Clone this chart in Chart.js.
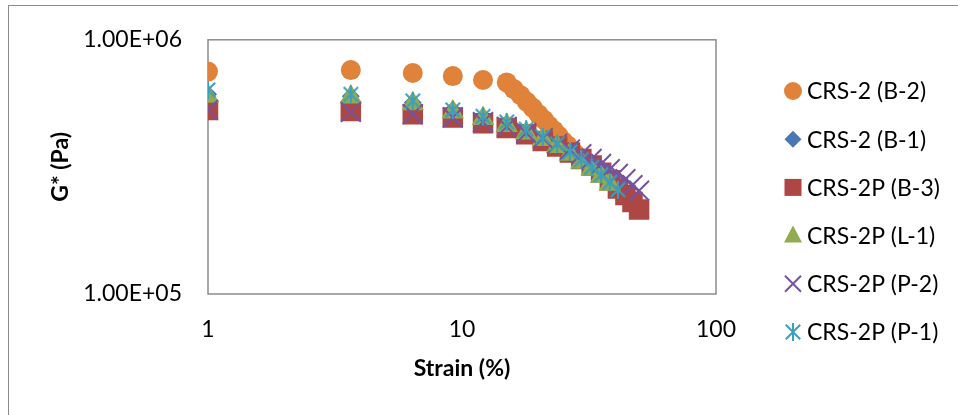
<!DOCTYPE html>
<html>
<head>
<meta charset="utf-8">
<script src="https://cdn.jsdelivr.net/npm/chart.js@4.4.0/dist/chart.umd.min.js"></script>
<style>
  html, body { margin: 0; padding: 0; background: #fff; overflow: hidden; }
  #wrap { position: relative; width: 958px; height: 415px; }
  #frame { position: absolute; left: 8px; top: 5px; width: 1100px; height: 600px; border: 1px solid #8c8c8c; }
  canvas { position: absolute; left: 0; top: 0; }
</style>
</head>
<body>
<div id="wrap">
  <div id="frame"></div>
  <canvas id="chart" width="958" height="415"></canvas>
</div>
<script>
// strain (%) values
const strainMain = [1, 3.65, 6.4, 9.2, 12.1, 15, 17.9, 20.8, 23.7, 26.6, 29.5, 32.4, 35.3, 38.2, 41.1, 44, 46.9, 49.8];
const strainB2 = [1, 3.65, 6.4, 9.2, 12.1, 15, 16, 17, 18, 19, 20, 21, 22, 23, 24, 25, 26, 27, 28];

// G* (Pa)
const gB2 = [7.5e5, 7.6e5, 7.4e5, 7.2e5, 6.95e5, 6.8e5, 6.4e5, 6.05e5, 5.7e5, 5.4e5, 5.1e5, 4.85e5, 4.6e5, 4.4e5, 4.2e5, 4.0e5, 3.85e5, 3.7e5, 3.55e5];
const gB1 = [6.1e5, 6.0e5, 5.65e5, 5.3e5, 4.95e5, 4.65e5, 4.35e5, 4.1e5, 3.85e5, 3.6e5, 3.35e5, 3.15e5, 2.95e5, 2.75e5];
const gB3 = [5.3e5, 5.25e5, 5.1e5, 4.95e5, 4.7e5, 4.5e5, 4.25e5, 4.0e5, 3.8e5, 3.6e5, 3.4e5, 3.2e5, 3.0e5, 2.8e5, 2.6e5, 2.45e5, 2.3e5, 2.15e5];
const gL1 = [6.0e5, 5.95e5, 5.6e5, 5.2e5, 4.9e5, 4.6e5, 4.3e5, 4.05e5, 3.8e5, 3.55e5, 3.3e5, 3.1e5, 2.9e5, 2.7e5];
const gP2 = [5.3e5, 5.2e5, 5.1e5, 4.95e5, 4.75e5, 4.55e5, 4.3e5, 4.1e5, 3.9e5, 3.7e5, 3.55e5, 3.4e5, 3.25e5, 3.1e5, 2.97e5, 2.83e5, 2.68e5, 2.55e5];
const gP1 = [6.35e5, 6.1e5, 5.75e5, 5.3e5, 5.0e5, 4.75e5, 4.45e5, 4.15e5, 3.9e5, 3.62e5, 3.38e5, 3.15e5, 2.95e5, 2.75e5, 2.57e5];

const seriesNames = ['CRS-2 (B-2)', 'CRS-2 (B-1)', 'CRS-2P (B-3)', 'CRS-2P (L-1)', 'CRS-2P (P-2)', 'CRS-2P (P-1)'];
const xTicks = [1, 10, 100];
const xTickLabels = ['1', '10', '100'];
const yTicks = [1e5, 1e6];
const yTickLabels = ['1.00E+05', '1.00E+06'];

const FONT = 'Lato';
const AXIS_GRAY = '#8c8c8c';

// asterisk marker like the spreadsheet one (vertical bar + X)
function makeStar(color, size) {
  const c = document.createElement('canvas');
  c.width = size; c.height = size;
  const g = c.getContext('2d');
  const m = size / 2, r = size / 2 - 1;
  g.strokeStyle = color; g.lineWidth = 2;
  g.beginPath();
  g.moveTo(m, m - r); g.lineTo(m, m + r);
  g.moveTo(m - r * 0.8, m - r * 0.8); g.lineTo(m + r * 0.8, m + r * 0.8);
  g.moveTo(m + r * 0.8, m - r * 0.8); g.lineTo(m - r * 0.8, m + r * 0.8);
  g.stroke();
  return c;
}

const pts = (xs, ys) => ys.map((y, i) => ({x: xs[i], y: y}));

const datasets = [
  {label: seriesNames[0], data: pts(strainB2, gB2), pointStyle: 'circle', pointRadius: 10,
   backgroundColor: '#E0823A', borderColor: '#E0823A', borderWidth: 0, order: 6},
  {label: seriesNames[1], data: pts(strainMain, gB1), pointStyle: 'rectRot', pointRadius: 9,
   backgroundColor: '#4A76B3', borderColor: '#4A76B3', borderWidth: 0, order: 5},
  {label: seriesNames[2], data: pts(strainMain, gB3), pointStyle: 'rect', pointRadius: 14.5,
   backgroundColor: '#AD4744', borderColor: '#AD4744', borderWidth: 0, order: 4},
  {label: seriesNames[3], data: pts(strainMain, gL1), pointStyle: 'triangle', pointRadius: 13,
   backgroundColor: '#8FAC4E', borderColor: '#8FAC4E', borderWidth: 0, order: 3},
  {label: seriesNames[4], data: pts(strainMain, gP2), pointStyle: 'crossRot', pointRadius: 14,
   backgroundColor: '#7553A0', borderColor: '#7553A0', borderWidth: 2, order: 2},
  {label: seriesNames[5], data: pts(strainMain, gP1), pointStyle: makeStar('#3C9EBF', 20), pointRadius: 10,
   backgroundColor: '#3C9EBF', borderColor: '#3C9EBF', borderWidth: 2, order: 1}
];

// box around the plot area
const plotBox = {
  id: 'plotBox',
  beforeDatasetsDraw(chart) {
    const {ctx, chartArea: a} = chart;
    ctx.save();
    ctx.strokeStyle = AXIS_GRAY;
    ctx.lineWidth = 1.5;
    ctx.strokeRect(a.left, a.top, a.right - a.left, a.bottom - a.top);
    ctx.restore();
  }
};

// legend on the right, drawn by hand
const sideLegend = {
  id: 'sideLegend',
  afterDraw(chart) {
    const ctx = chart.ctx;
    const x0 = 793, y0 = 91, step = 48.2;
    ctx.save();
    ctx.font = '23px ' + FONT;
    ctx.textBaseline = 'middle';
    ctx.fillStyle = '#000';
    chart.data.datasets.forEach((ds, i) => {
      const y = y0 + i * step;
      const col = ds.backgroundColor;
      ctx.fillStyle = col;
      ctx.strokeStyle = col;
      ctx.lineWidth = 2;
      ctx.beginPath();
      if (ds.pointStyle === 'circle') {
        ctx.arc(x0, y, 9, 0, Math.PI * 2); ctx.fill();
      } else if (ds.pointStyle === 'rectRot') {
        ctx.moveTo(x0 - 8.5, y); ctx.lineTo(x0, y - 8.5); ctx.lineTo(x0 + 8.5, y); ctx.lineTo(x0, y + 8.5);
        ctx.closePath(); ctx.fill();
      } else if (ds.pointStyle === 'rect') {
        ctx.fillRect(x0 - 8.5, y - 8.5, 17, 17);
      } else if (ds.pointStyle === 'triangle') {
        ctx.moveTo(x0, y - 10); ctx.lineTo(x0 + 9, y + 7); ctx.lineTo(x0 - 9, y + 7);
        ctx.closePath(); ctx.fill();
      } else if (ds.pointStyle === 'crossRot') {
        ctx.moveTo(x0 - 8, y - 8); ctx.lineTo(x0 + 8, y + 8);
        ctx.moveTo(x0 + 8, y - 8); ctx.lineTo(x0 - 8, y + 8); ctx.stroke();
      } else {
        ctx.drawImage(ds.pointStyle, x0 - 10, y - 10);
      }
      ctx.fillStyle = '#000';
      ctx.fillText(ds.label, 807, y + 1);
    });
    ctx.restore();
  }
};

new Chart(document.getElementById('chart'), {
  type: 'scatter',
  data: {datasets: datasets},
  plugins: [plotBox, sideLegend],
  options: {
    responsive: false,
    animation: false,
    events: [],
    layout: {padding: {left: 0, right: 242, top: 34, bottom: 0}},
    plugins: {legend: {display: false}, tooltip: {enabled: false}},
    scales: {
      x: {
        type: 'logarithmic', min: 1, max: 100,
        afterBuildTicks: s => { s.ticks = xTicks.map(v => ({value: v})); },
        afterFit: s => { s.height = 121; },
        ticks: {
          autoSkip: false, maxRotation: 0, padding: 22, color: '#000',
          font: {family: FONT, size: 23},
          callback: (v) => xTickLabels[xTicks.indexOf(v)]
        },
        grid: {display: false, drawTicks: false},
        border: {display: false},
        title: {display: true, text: 'Strain (%)', color: '#000', padding: {top: 0, bottom: 33},
                font: {family: FONT, size: 23, weight: 'bold'}}
      },
      y: {
        type: 'logarithmic', min: 1e5, max: 1e6,
        afterBuildTicks: s => { s.ticks = yTicks.map(v => ({value: v})); },
        afterFit: s => { s.width = 208; },
        ticks: {
          autoSkip: false, padding: 26, color: '#000',
          font: {family: FONT, size: 23},
          callback: (v) => yTickLabels[yTicks.indexOf(v)]
        },
        grid: {display: false, drawTicks: false},
        border: {display: false},
        title: {display: true, text: 'G* (Pa)', color: '#000', padding: {top: 47, bottom: 0},
                font: {family: FONT, size: 23, weight: 'bold'}}
      }
    }
  }
});
</script>
</body>
</html>
